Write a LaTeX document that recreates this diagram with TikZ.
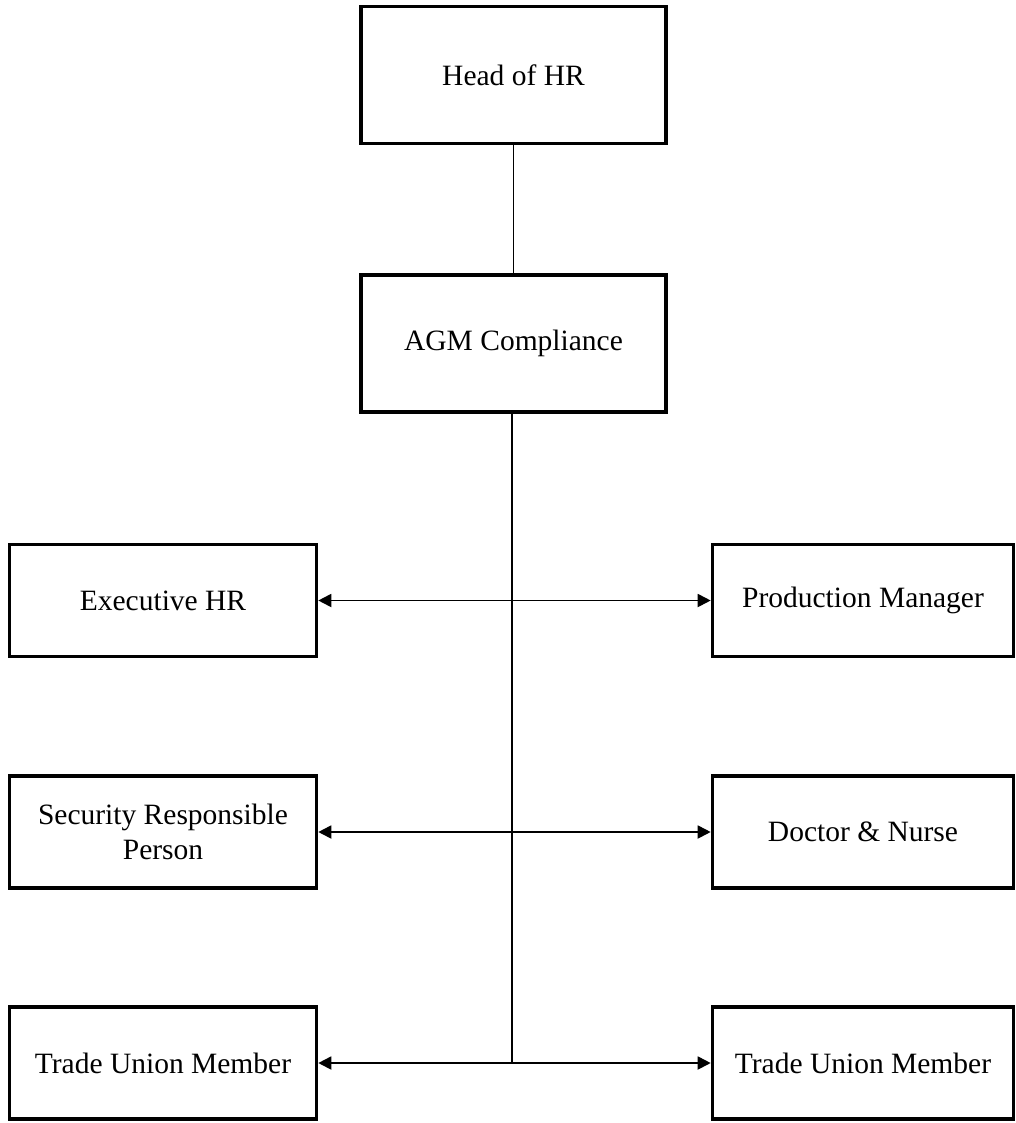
\documentclass[tikz,border=0pt]{standalone}
\usepackage{fontspec}
\setmainfont{Liberation Serif}
\usetikzlibrary{arrows.meta}

\tikzset{
  orgbox/.style={draw=black, line width=3.6pt, fill=white, inner sep=0pt,
    align=center, font=\fontsize{29.5}{35}\selectfont},
  toprole/.style={orgbox, minimum width=305pt, minimum height=137pt},
  siderole/.style={orgbox, minimum width=307pt, minimum height=112pt},
  link/.style={black, line width=1.8pt}
}

\begin{document}
\begin{tikzpicture}[x=1pt, y=-1pt, >={Triangle[length=13pt, width=13pt]}]

% Page frame
\useasboundingbox (0,0) rectangle (1016,1123);

% ============================================================
% Top of the chart
% ============================================================
\node[toprole] (head) at (513.5,75) {Head of HR};
\node[toprole] (agm)  at (513.5,343.5) {AGM Compliance};

\draw[link] (head.south) -- (agm.south |- 0,274);

% ============================================================
% Left column
% ============================================================
\node[siderole] (exechr)   at (163,600.5) {Executive HR};
\node[siderole] (security) at (163,832)   {Security Responsible\\Person};
\node[siderole] (unionl)   at (163,1063)  {Trade Union Member};

% ============================================================
% Right column
% ============================================================
\node[siderole, minimum width=301pt] (prodmgr) at (863,600.5) {Production Manager};
\node[siderole, minimum width=301pt] (doctor)  at (863,832)   {Doctor \& Nurse};
\node[siderole, minimum width=301pt] (unionr)  at (863,1063)  {Trade Union Member};

% Spine down from AGM Compliance
\coordinate (spine) at (512,1063);
\draw[link] (agm.south -| spine) -- (spine);

% Two-way links across the spine
\draw[link, <->] (exechr.east)   -- (prodmgr.west);
\draw[link, <->] (security.east) -- (doctor.west);
\draw[link, <->] (unionl.east)   -- (unionr.west);

\end{tikzpicture}
\end{document}
